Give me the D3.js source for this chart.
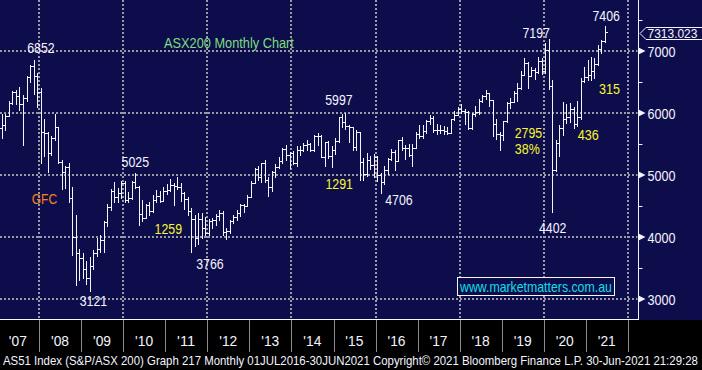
<!DOCTYPE html>
<html>
<head>
<meta charset="utf-8">
<script src="https://cdn.jsdelivr.net/npm/d3@7/dist/d3.min.js"></script>
<style>
	html, body	{ margin:0; padding:0; background:#000; overflow:hidden; }
	svg					{ display:block; }
	text				{ font-family:'Liberation Sans', Arial, sans-serif; }
</style>
</head>
<body>
<svg id="chart" width="702" height="370"></svg>
<script>

//------------------------------------------------------------------
//	data (AS51 monthly bars, Jan 2007 - Jun 2021)
//------------------------------------------------------------------
var firstMonth = '2007-01-01';

var open = [
	5644,5757,5800,5955,6163,6341,6274,6147,6248,6580,6754,6593,	// 2007
	6340,5697,5673,5355,5598,5773,5215,5052,5135,4631,4006,3744,	// 2008
	3659,3478,3345,3532,3744,3813,3948,4249,4484,4743,4646,4715,	// 2009
	4871,4596,4632,4893,4807,4367,4301,4509,4419,4597,4661,4584,	// 2010
	4745,4753,4838,4823,4800,4710,4608,4425,4298,3976,4298,4145,	// 2011
	4057,4254,4275,4335,4381,4076,4095,4266,4317,4387,4517,4506,	// 2012
	4649,4879,5104,4967,5191,4926,4803,5052,5135,5218,5425,5320,	// 2013
	5352,5190,5404,5403,5489,5492,5396,5633,5625,5292,5526,5313,	// 2014
	5411,5551,5929,5862,5790,5777,5459,5699,5207,5021,5239,5166,	// 2015
	5296,5005,4880,5083,5252,5378,5233,5562,5433,5436,5318,5440,	// 2016
	5666,5621,5712,5864,5924,5724,5721,5720,5715,5682,5909,5970,	// 2017
	6065,6037,6016,5759,5982,6011,6195,6280,6320,6208,5830,5667,	// 2018
	5646,5865,6169,6181,6325,6397,6619,6813,6604,6688,6663,6846,	// 2019
	6684,7017,6441,5077,5523,5756,5898,5928,6061,5816,5928,6517,	// 2020
	6587,6607,6673,6791,7025,7162																	// 2021
];

var high = [
	5790,5990,5990,6200,6360,6370,6420,6290,6600,6780,6852,6650,
	6400,5900,5700,5630,5990,5780,5250,5140,5200,4810,4350,3800,
	3750,3620,3680,3790,3990,4040,4260,4530,4780,4880,4790,4900,
	4900,4720,4910,5025,4820,4590,4530,4560,4670,4760,4750,4800,
	4860,4930,4870,4970,4870,4720,4650,4470,4360,4380,4380,4320,
	4290,4300,4370,4440,4420,4150,4280,4360,4430,4530,4540,4670,
	4900,5120,5150,5200,5250,4970,5060,5180,5290,5440,5480,5370,
	5380,5470,5460,5520,5560,5520,5640,5680,5640,5540,5550,5460,
	5590,5940,5990,5997,5810,5780,5720,5700,5270,5350,5300,5340,
	5300,5030,5150,5280,5420,5410,5570,5610,5480,5500,5500,5690,
	5800,5800,5890,5960,5950,5820,5810,5790,5770,5910,6030,6090,
	6150,6070,6030,6000,6120,6220,6290,6370,6330,6210,5900,5700,
	5870,6180,6250,6350,6480,6670,6880,6830,6740,6730,6900,6890,
	7130,7197,6530,5560,5800,6180,6140,6160,6100,6200,6570,6750,
	6850,6900,6880,7090,7170,7406
];

var low = [
	5520,5600,5720,5950,6150,6150,6050,5480,6200,6500,6300,6100,
	5186,5300,5050,5330,5560,5200,4780,4790,4560,3710,3230,3310,
	3340,3250,3121,3480,3690,3760,3760,4180,4430,4560,4560,4630,
	4560,4560,4620,4790,4200,4260,4300,4360,4400,4570,4560,4580,
	4700,4740,4520,4770,4580,4450,4360,3766,3850,3880,3980,4030,
	4040,4140,4200,4280,4030,3970,4070,4230,4270,4340,4400,4500,
	4640,4870,4920,4880,4880,4660,4750,4970,5120,5200,5240,5110,
	5170,5150,5330,5390,5410,5380,5390,5480,5290,5150,5280,5130,
	5340,5540,5780,5750,5540,5400,5400,4920,4920,4990,5100,4960,
	4900,4706,4860,5010,5250,5080,5230,5400,5260,5300,5150,5430,
	5600,5600,5680,5820,5690,5660,5670,5660,5660,5680,5880,5960,
	6000,5830,5740,5750,5950,5990,6180,6230,6120,5630,5580,5410,
	5570,5860,6080,6180,6200,6390,6610,6410,6590,6550,6650,6630,
	6650,6380,4402,5060,5300,5650,5840,5860,5760,5790,5900,6500,
	6535,6530,6560,6770,6960,7150
];

var close = [
	5757,5800,5955,6163,6341,6274,6147,6248,6580,6754,6593,6340,
	5697,5673,5355,5598,5773,5215,5052,5135,4631,4006,3744,3659,
	3478,3345,3532,3744,3813,3948,4249,4484,4743,4646,4715,4871,
	4596,4632,4893,4807,4367,4301,4509,4419,4597,4661,4584,4745,
	4753,4838,4823,4800,4710,4608,4425,4298,3976,4298,4145,4057,
	4254,4275,4335,4381,4076,4095,4266,4317,4387,4517,4506,4649,
	4879,5104,4967,5191,4926,4803,5052,5135,5218,5425,5320,5352,
	5190,5404,5403,5489,5492,5396,5633,5625,5292,5526,5313,5411,
	5551,5929,5862,5790,5777,5459,5699,5207,5021,5239,5166,5296,
	5005,4880,5083,5252,5378,5233,5562,5433,5436,5318,5440,5666,
	5621,5712,5864,5924,5724,5721,5720,5715,5682,5909,5970,6065,
	6037,6016,5759,5982,6011,6195,6280,6320,6208,5830,5667,5646,
	5865,6169,6181,6325,6397,6619,6813,6604,6688,6663,6846,6684,
	7017,6441,5077,5523,5756,5898,5928,6061,5816,5928,6517,6587,
	6607,6673,6791,7025,7162,7313
];

var yTicks			= [3000,4000,5000,6000,7000],
		yMinorTicks	= [3500,4500,5500,6500,7500],
		gridYears		= [2008,2010,2012,2014,2016,2018,2020,2022],
		axisYears		= [2007,2008,2009,2010,2011,2012,2013,2014,2015,2016,2017,2018,2019,2020,2021],
		yearLabels	= ["'07","'08","'09","'10","'11","'12","'13","'14","'15","'16","'17","'18","'19","'20","'21"],
		lastPrice		= '7313.023';

// annotation text, anchored at [date, value]
var notes = [
	{ t:'6852',	d:'2008-01-17', v:6963, c:'w' },
	{ t:'5025',	d:'2010-04-16', v:5134, c:'w' },
	{ t:'3121',	d:'2009-04-17', v:2887, c:'w' },
	{ t:'3766',	d:'2012-01-24', v:3479, c:'w' },
	{ t:'1259',	d:'2011-01-28', v:4044, c:'y' },
	{ t:'GFC',	d:'2008-02-17', v:4527, c:'o' },
	{ t:'5997',	d:'2015-02-17', v:6124, c:'w' },
	{ t:'1291',	d:'2015-02-19', v:4774, c:'y' },
	{ t:'4706',	d:'2016-07-22', v:4516, c:'w' },
	{ t:'7197',	d:'2019-10-27', v:7205, c:'w' },
	{ t:'7406',	d:'2021-06-26', v:7484, c:'w' },
	{ t:'2795',	d:'2019-08-20', v:5592, c:'y' },
	{ t:'38%',	d:'2019-08-11', v:5339, c:'y' },
	{ t:'436',	d:'2021-01-21', v:5565, c:'y' },
	{ t:'315',	d:'2021-07-25', v:6306, c:'y' },
	{ t:'4402',	d:'2020-03-18', v:4058, c:'w' }
];

var title		= 'ASX200 Monthly Chart',
		website	= 'www.marketmatters.com.au',
		footer	= 'AS51 Index (S&P/ASX 200) Graph 217  Monthly 01JUL2016-30JUN2021 Copyright\u00a9 2021 Bloomberg Finance L.P. 30-Jun-2021 21:29:28';


//------------------------------------------------------------------
//	layout
//------------------------------------------------------------------
var W				= 702,
		H				= 370,
		plotR		= 638.5,
		plotB		= 320,
		navy		= '#0e0d4b',
		white		= '#f4f4ff',
		colors	= { w:white, y:'#f8f82a', o:'#f5831f' };

var parse	= d3.timeParse('%Y-%m-%d'),
		x			= d3.scaleTime().domain([ new Date(2007,0,1), new Date(2022,0,1) ]).range([-3, 628]),
		y			= d3.scaleLinear().domain([3000,7000]).range([299,51]);

var bars = close.map((c,i)=>{
	var m = d3.timeMonth.offset(parse(firstMonth), i);
	return { date:new Date(m.getFullYear(), m.getMonth(), 15), o:open[i], h:high[i], l:low[i], c:c };
});

var svg = d3.select('#chart');


//------------------------------------------------------------------
//	helper: condensed text (the terminal font is narrow),
//	squeezed with a horizontal scale so its box stays true
//------------------------------------------------------------------
function label(sel, txt, px, py, len, size, fill, anchor)	{
	var t = sel.append('text')
		.attr('x', 0)
		.attr('y', 0)
		.attr('font-size', size)
		.attr('fill', fill)
		.attr('text-anchor', anchor || 'start')
		.text(txt);
	var k = len / t.node().getComputedTextLength();
	t.attr('transform', 'translate(' + px + ',' + py + ') scale(' + k + ',1)');
	return t;
}


//------------------------------------------------------------------
//	background + grid
//------------------------------------------------------------------
function chart_layout()	{

	svg.append('rect').attr('width', W).attr('height', H).attr('fill', '#000');
	svg.append('rect').attr('width', W).attr('height', plotB).attr('fill', navy);

	svg.append('g')
		.attr('class', 'grid')
		.call(sel=>{

			sel.selectAll('.gy').data(yTicks)
				.enter()
					.append('line')
						.attr('class', 'gy')
						.attr('x1', 0)
						.attr('x2', plotR - 1)
						.attr('y1', d=>y(d))
						.attr('y2', d=>y(d));

			sel.selectAll('.gx').data(gridYears)
				.enter()
					.append('line')
						.attr('class', 'gx')
						.attr('x1', d=>Math.round(x(new Date(d,0,1))))
						.attr('x2', d=>Math.round(x(new Date(d,0,1))))
						.attr('y1', 0)
						.attr('y2', plotB);

			sel.selectAll('line')
				.attr('stroke', '#9a9aa4')
				.attr('stroke-width', 2)
				.attr('stroke-dasharray', '2,2');
		});

}


//------------------------------------------------------------------
//	ohlc bars
//------------------------------------------------------------------
function chart_bars()	{

	var g = svg.append('g')
		.attr('class', 'bars')
		.attr('stroke', white)
		.attr('stroke-width', 1)
		.attr('shape-rendering', 'crispEdges');

	var bar = g.selectAll('.bar').data(bars)
		.enter()
			.append('g')
				.attr('class', 'bar')
				.attr('transform', d=>'translate(' + (Math.round(x(d.date)) + 0.5) + ',0)');

	bar.append('line')
		.attr('y1', d=>y(d.h))
		.attr('y2', d=>y(d.l) + 1);

	bar.append('line')
		.attr('x1', -2).attr('x2', 0)
		.attr('y1', d=>Math.round(y(d.o)) + 0.5)
		.attr('y2', d=>Math.round(y(d.o)) + 0.5);

	bar.append('line')
		.attr('x1', 0).attr('x2', 2.5)
		.attr('y1', d=>Math.round(y(d.c)) + 0.5)
		.attr('y2', d=>Math.round(y(d.c)) + 0.5);

}


//------------------------------------------------------------------
//	right price axis + last price tag
//------------------------------------------------------------------
function chart_axisY()	{

	svg.append('g')
		.attr('class', 'axis-y')
		.call(sel=>{

			sel.append('line')
				.attr('x1', plotR).attr('x2', plotR)
				.attr('y1', 0).attr('y2', plotB)
				.attr('stroke', white);

			sel.selectAll('.minor').data(yMinorTicks)
				.enter()
					.append('line')
						.attr('class', 'minor')
						.attr('x1', plotR).attr('x2', plotR + 4)
						.attr('y1', d=>Math.round(y(d)) + 0.5)
						.attr('y2', d=>Math.round(y(d)) + 0.5)
						.attr('stroke', white);

			var tick = sel.selectAll('.tick').data(yTicks)
				.enter()
					.append('g')
						.attr('class', 'tick')
						.attr('transform', d=>'translate(0,' + y(d) + ')');

			tick.append('path')
				.attr('d', 'M' + plotR + ',-3.5L' + (plotR + 7) + ',0L' + plotR + ',3.5Z')
				.attr('fill', white);

			tick.each(function(d){
				label(d3.select(this), d3.format('d')(d), 647.5, 5.5, 28, 15, white);
			});

			// last price tag
			var ly = Math.round(y(+lastPrice));
			sel.append('path')
				.attr('d', 'M640,' + (ly + 1.5) + 'L646,' + (ly - 4.5) + 'L703,' + (ly - 4.5) + 'L703,' + (ly + 7.5) + 'L646,' + (ly + 7.5) + 'Z')
				.attr('fill', navy)
				.attr('stroke', white);

			label(sel, lastPrice, 647.5, ly + 6, 50, 13.5, white);
		});

}


//------------------------------------------------------------------
//	time axis + footer
//------------------------------------------------------------------
function chart_axisX()	{

	svg.append('g')
		.attr('class', 'axis-x')
		.call(sel=>{

			sel.append('line')
				.attr('x1', 0).attr('x2', plotR)
				.attr('y1', plotB - 0.5).attr('y2', plotB - 0.5)
				.attr('stroke', white);

			sel.selectAll('.sep').data(axisYears.slice(1).concat([2022]))
				.enter()
					.append('line')
						.attr('class', 'sep')
						.attr('x1', d=>Math.round(x(new Date(d,0,1))) + 0.5)
						.attr('x2', d=>Math.round(x(new Date(d,0,1))) + 0.5)
						.attr('y1', plotB)
						.attr('y2', 352)
						.attr('stroke', '#8a8a8a');

			axisYears.forEach((yr,i)=>{
				label(sel, yearLabels[i], x(new Date(yr,6,1)), 346, 18, 15, white, 'middle');
			});

			label(sel, footer, 3, 365, 695, 12.5, white);
		});

}


//------------------------------------------------------------------
//	annotations
//------------------------------------------------------------------
function chart_notes()	{

	svg.append('g')
		.attr('class', 'notes')
		.call(sel=>{

			notes.forEach(n=>{
				var len = n.t.length == 4 ? 27.5 : (n.t == 'GFC' ? 25.5 : (n.t == '38%' ? 25 : 21));
				label(sel, n.t, x(parse(n.d)), y(n.v), len, 14.5, colors[n.c], 'middle');
			});

			label(sel, title, 164, 47.5, 130, 15, '#7ddc7d');

			sel.append('rect')
				.attr('x', 457.5).attr('y', 277.5)
				.attr('width', 157).attr('height', 18)
				.attr('fill', navy)
				.attr('stroke', white);

			label(sel, website, 460, 292, 152, 14, '#12dfe8');
		});

}


chart_layout();
chart_bars();
chart_axisY();
chart_axisX();
chart_notes();

</script>
</body>
</html>
